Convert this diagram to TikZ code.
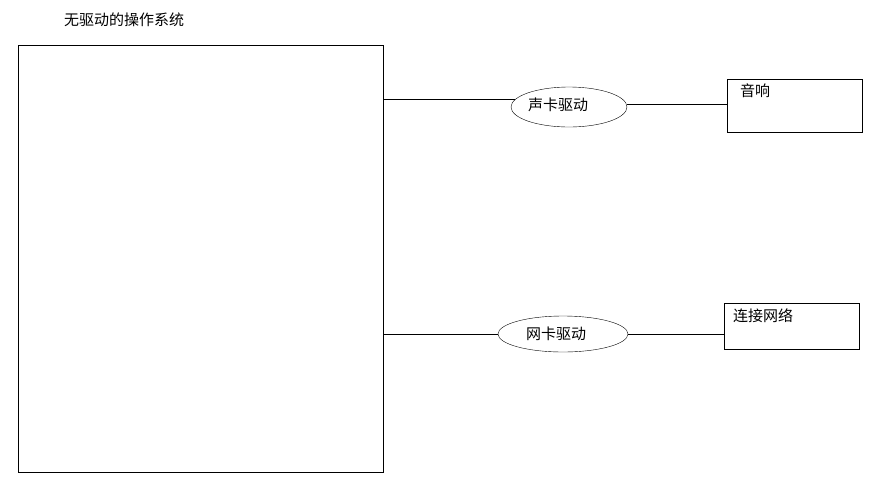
\documentclass[tikz,border=0pt]{standalone}
\usepackage{fontspec}
\newfontfamily\cjk{Noto Sans CJK SC}
\usetikzlibrary{shapes.geometric}

\def\thesize{15}

\begin{document}
\begin{tikzpicture}[
    x=1pt,y=-1pt,
    every node/.style={font=\cjk\fontsize{\thesize}{17}\selectfont,inner sep=0pt},
    drvshape/.style={draw,ellipse,inner sep=0pt},
    devbox/.style={draw,rectangle,anchor=north west}
    ]

    \useasboundingbox[fill=white] (0,0) rectangle (883,480);

    \node[anchor=west] (title) at (64,20) {无驱动的操作系统};
    \node[draw,anchor=north west,minimum width=365,minimum height=427] (os) at (18,45) {};

    \node[drvshape,minimum width=115,minimum height=40] (sound) at (569,107) {\raisebox{5pt}{声卡驱动}\rule{22pt}{0pt}};
    \node[drvshape,minimum width=130,minimum height=36] (net) at (563,334) {\raisebox{2pt}{网卡驱动}\rule{14pt}{0pt}};

    \node[devbox,minimum width=135,minimum height=53] (speaker) at (727,79) {};
    \node[anchor=north west] at ([shift={(13,5)}]speaker.north west) {音响};
    \node[devbox,minimum width=135,minimum height=46] (lan) at (724,303) {};
    \node[anchor=north west] at ([shift={(9,5)}]lan.north west) {连接网络};

    \draw (os.east |- sound.172) -- (sound.172);
    \draw (sound.3) -- (speaker.west |- sound.3);
    \draw (os.east |- net.west) -- (net.west);
    \draw (net.east) -- (lan.west |- net.east);
  \end{tikzpicture}
\end{document}
